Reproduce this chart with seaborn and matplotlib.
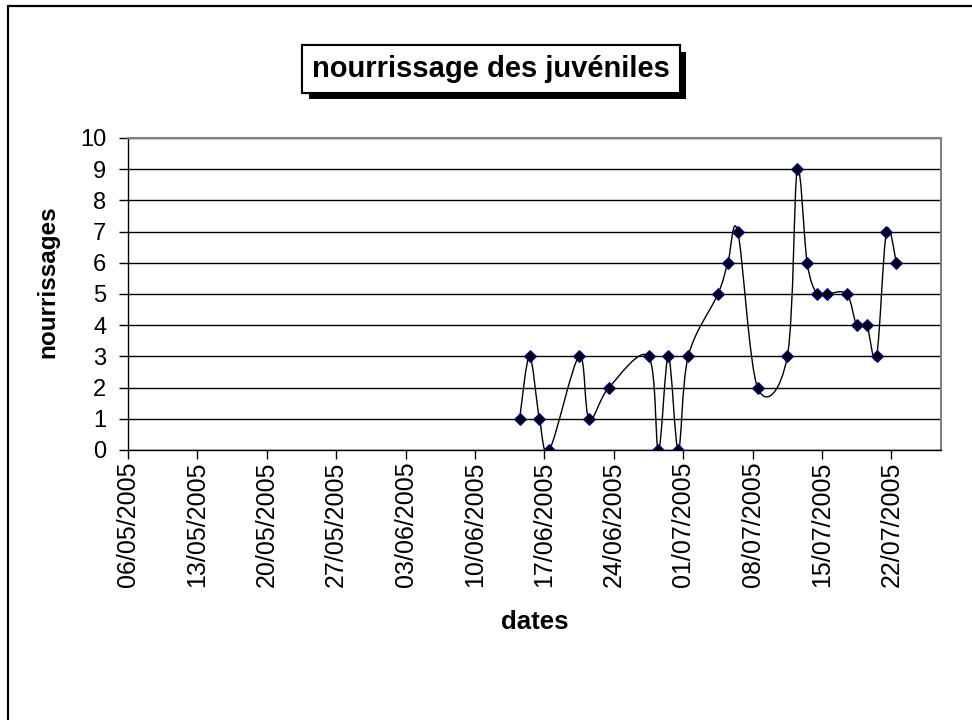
import numpy as np
import pandas as pd
import matplotlib
matplotlib.use("Agg")
import matplotlib.pyplot as plt
import matplotlib.dates as mdates
import matplotlib.patheffects as pe
from matplotlib.path import Path
from matplotlib.patches import PathPatch
from matplotlib.lines import Line2D
import seaborn as sns

# data
dates = ["14/06/2005", "15/06/2005", "16/06/2005", "17/06/2005", "20/06/2005",
         "21/06/2005", "23/06/2005", "27/06/2005", "28/06/2005", "29/06/2005",
         "30/06/2005", "01/07/2005", "04/07/2005", "05/07/2005", "06/07/2005",
         "08/07/2005", "11/07/2005", "12/07/2005", "13/07/2005", "14/07/2005",
         "15/07/2005", "17/07/2005", "18/07/2005", "19/07/2005", "20/07/2005",
         "21/07/2005", "22/07/2005"]
nourrissages = [1, 3, 1, 0, 3, 1, 2, 3, 0, 3, 0, 3, 5, 6, 7, 2, 3, 9, 6, 5, 5,
                5, 4, 4, 3, 7, 6]
tickLabels = ["06/05/2005", "13/05/2005", "20/05/2005", "27/05/2005",
              "03/06/2005", "10/06/2005", "17/06/2005", "24/06/2005",
              "01/07/2005", "08/07/2005", "15/07/2005", "22/07/2005"]
axisStart = "06/05/2005"
axisEnd = "27/07/2005"
yTicks = list(range(0, 11))


def smoothPath(xs, ys):
    # excel-like smoothed line: bezier segments with catmull-rom control points
    pts = np.column_stack([xs, ys])
    padded = np.vstack([pts[0], pts, pts[-1]])
    verts = [pts[0]]
    codes = [Path.MOVETO]
    for i in range(len(pts) - 1):
        p0, p1, p2, p3 = padded[i], padded[i + 1], padded[i + 2], padded[i + 3]
        verts += [p1 + (p2 - p0) / 6, p2 - (p3 - p1) / 6, p2]
        codes += [Path.CURVE4] * 3
    return Path(verts, codes)


sns.set_theme(style="white")
plt.rcParams["font.family"] = ["Liberation Sans", "DejaVu Sans"]
plt.rcParams["text.color"] = "black"
plt.rcParams["axes.labelcolor"] = "black"
plt.rcParams["xtick.color"] = "black"
plt.rcParams["ytick.color"] = "black"

# excel date axis puts each point in the middle of its day slot
df = pd.DataFrame({"date": pd.to_datetime(dates, dayfirst=True) + pd.Timedelta(hours=12),
                   "nourrissages": nourrissages})

fig = plt.figure(figsize=(9.72, 7.2), dpi=100)
ax = fig.add_axes([128 / 972, 1 - 450 / 720, 813 / 972, 312 / 720])

sns.scatterplot(x="date", y="nourrissages", data=df, ax=ax, marker="D", s=34,
                color="black", edgecolor="#000080", linewidth=1.0, zorder=4)

xNum = mdates.date2num(df["date"])
curve = PathPatch(smoothPath(xNum, df["nourrissages"].values), facecolor="none",
                  edgecolor="black", lw=1.0, zorder=3)
ax.add_patch(curve)

ax.set_xlim(pd.to_datetime(axisStart, dayfirst=True), pd.to_datetime(axisEnd, dayfirst=True))
ax.set_ylim(0, 10)
ax.set_xticks(pd.to_datetime(tickLabels, dayfirst=True))
ax.set_xticklabels(tickLabels, rotation=90, fontsize=18)
ax.set_yticks(yTicks)
ax.set_yticklabels([str(v) for v in yTicks], fontsize=17)
ax.tick_params(axis="x", bottom=True, length=6.5, width=1, color="black", pad=2,
               labelcolor="black")
ax.tick_params(axis="y", left=True, length=6.5, width=1, color="black", pad=9,
               labelcolor="black")

ax.yaxis.grid(True, color="black", lw=1.0)
ax.xaxis.grid(False)
ax.set_axisbelow(True)
for side in ["top", "right"]:
    ax.spines[side].set_color("#808080")
    ax.spines[side].set_linewidth(1.5)
for side in ["left", "bottom"]:
    ax.spines[side].set_color("black")
    ax.spines[side].set_linewidth(1.0)
ax.spines["top"].set_zorder(5)

ax.set_xlabel("dates", fontsize=18.5, fontweight="bold", color="black")
ax.xaxis.label.set_va("center")
ax.xaxis.set_label_coords(0.5, -0.551)
ax.set_ylabel("nourrissages", fontsize=17.5, fontweight="bold", color="black")
ax.yaxis.label.set_va("center")
ax.yaxis.set_label_coords(-0.0984, 0.54)

title = fig.text(491 / 972, 1 - 69 / 720, "nourrissage des juvéniles", fontsize=21,
                 fontweight="bold", ha="center", va="center", color="black",
                 bbox=dict(boxstyle="square,pad=0.33", facecolor="white",
                           edgecolor="black", lw=1.5))
title.get_bbox_patch().set_path_effects(
    [pe.withSimplePatchShadow(offset=(4.5, -4.5), shadow_rgbFace="black", alpha=1),
     pe.Normal()])

# outer chart border (right and bottom edges fall outside the picture)
fig.add_artist(Line2D([8 / 972, 8 / 972], [0, 1 - 6 / 720], transform=fig.transFigure,
                      color="black", lw=1.6))
fig.add_artist(Line2D([8 / 972, 1], [1 - 6 / 720, 1 - 6 / 720], transform=fig.transFigure,
                      color="black", lw=1.6))

fig.savefig("out.png", dpi=100)
